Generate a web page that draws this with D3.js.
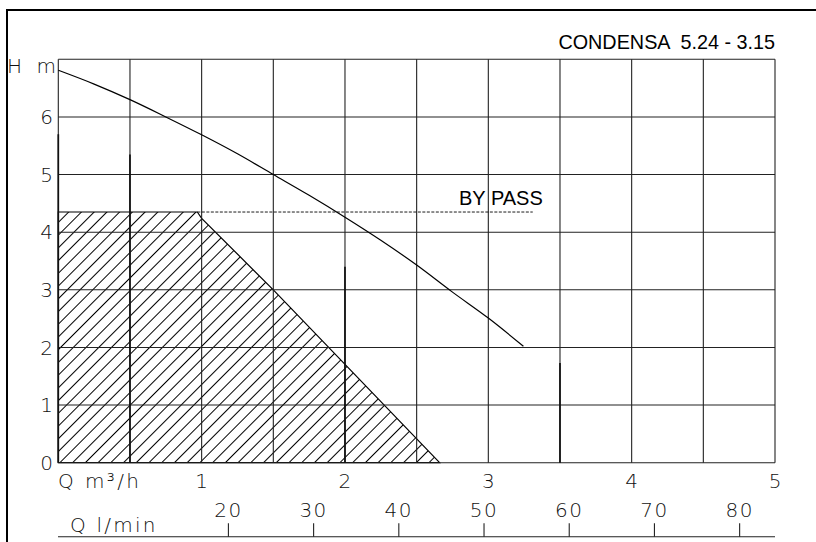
<!DOCTYPE html>
<html>
<head>
<meta charset="utf-8">
<script src="https://cdn.jsdelivr.net/npm/d3@7"></script>
<style>
  html, body { margin: 0; padding: 0; background: #fff; }
  svg { display: block; }
  .cad { font-family: "DejaVu Sans", sans-serif; font-weight: 200; fill: #111; }
  .arial { font-family: "Liberation Sans", Arial, sans-serif; fill: #000; }
</style>
</head>
<body>
<svg id="chart" width="816" height="542"></svg>
<script>
// ---- data ----
const curveQ = [0, 0.25, 0.5, 0.75, 1.0, 1.25, 1.5, 1.75, 2.0, 2.25, 2.5, 2.75, 3.0, 3.245];
const curveH = [6.81, 6.57, 6.30, 6.00, 5.69, 5.36, 5.00, 4.64, 4.26, 3.86, 3.43, 2.96, 2.51, 2.02];
const hatchQ = [0, 0.97, 1.0, 1.5, 2.66, 0];
const hatchH = [4.35, 4.35, 4.24, 3.0, 0, 0];
const bypassQ = [0.97, 3.31];
const bypassH = [4.35, 4.35];
const xTicks = [1, 2, 3, 4, 5];
const xGrid = [0, 0.5, 1, 1.5, 2, 2.5, 3, 3.5, 4, 4.5, 5];
const yTicks = [0, 1, 2, 3, 4, 5, 6];
const yGrid = [0, 1, 2, 3, 4, 5, 6, 7];
const lminTicks = [20, 30, 40, 50, 60, 70, 80];
const heavyQ = [0, 0.5, 2, 3.5];
const heavyH = [5.7, 5.35, 3.4, 1.73];
const title = "CONDENSA  5.24 - 3.15";

// ---- scales ----
const svg = d3.select("#chart");
const x = d3.scaleLinear().domain([0, 5]).range([58.3, 775]);
const y = d3.scaleLinear().domain([0, 7]).range([462.7, 59.3]);
const xl = d3.scaleLinear().domain([0, 84.15]).range([58, 775]);

// frame
svg.append("path").attr("d", "M7,542V10H816").attr("fill", "none")
  .attr("stroke", "#000").attr("stroke-width", 2);

// hatch pattern
const defs = svg.append("defs");
const pat = defs.append("pattern").attr("id", "hatch")
  .attr("patternUnits", "userSpaceOnUse").attr("width", 9).attr("height", 9)
  .attr("patternTransform", "rotate(45)");
pat.append("line").attr("x1", 0.5).attr("y1", 0).attr("x2", 0.5).attr("y2", 9)
  .attr("stroke", "#000").attr("stroke-width", 1);

// hatched area
const hatchPts = hatchQ.map((q, i) => [x(q), y(hatchH[i])]);
svg.append("path").attr("d", d3.line()(hatchPts) + "Z")
  .attr("fill", "url(#hatch)").attr("stroke", "#000").attr("stroke-width", 1.2);

// grid
const g = svg.append("g").attr("stroke", "#222").attr("stroke-width", 1.1);
g.selectAll("line.v").data(xGrid).join("line").attr("class", "v")
  .attr("x1", d => x(d)).attr("x2", d => x(d))
  .attr("y1", y(0)).attr("y2", y(7));
g.selectAll("line.h").data(yGrid).join("line").attr("class", "h")
  .attr("x1", x(0)).attr("x2", x(5))
  .attr("y1", d => y(d)).attr("y2", d => y(d));
// heavier scan segments
g.selectAll("line.hv").data(heavyQ).join("line").attr("class", "hv")
  .attr("x1", d => x(d)).attr("x2", d => x(d))
  .attr("y1", (d, i) => y(heavyH[i])).attr("y2", y(0))
  .attr("stroke-width", 1.7).attr("stroke", "#111");

// bypass dashed
svg.append("path")
  .attr("d", d3.line()(bypassQ.map((q, i) => [x(q), y(bypassH[i])])))
  .attr("stroke", "#000").attr("stroke-width", 0.9).attr("stroke-dasharray", "3,1.5")
  .attr("fill", "none");

// pump curve
svg.append("path")
  .attr("d", d3.line().curve(d3.curveMonotoneX)(curveQ.map((q, i) => [x(q), y(curveH[i])])))
  .attr("stroke", "#000").attr("stroke-width", 1.2).attr("fill", "none");

// y tick labels
svg.selectAll("text.yt").data(yTicks).join("text").attr("class", "cad yt")
  .attr("x", 53).attr("y", d => y(d)).attr("dy", "0.36em")
  .attr("text-anchor", "end").attr("font-size", 20).text(d => d);
svg.append("text").attr("class", "cad").attr("x", 7).attr("y", 73)
  .attr("font-size", 20).text("H");
svg.append("text").attr("class", "cad").attr("x", 56).attr("y", 73)
  .attr("text-anchor", "end").attr("font-size", 20).text("m");

// x tick labels
svg.selectAll("text.xt").data(xTicks).join("text").attr("class", "cad xt")
  .attr("x", d => x(d)).attr("y", 488).attr("text-anchor", "middle")
  .attr("font-size", 20).text(d => d);
svg.append("text").attr("class", "cad").attr("x", 58).attr("y", 488)
  .attr("font-size", 20).attr("letter-spacing", 2.4).text("Q  m³/h");

// l/min axis
svg.append("line").attr("x1", 58).attr("x2", 775).attr("y1", 536.7).attr("y2", 536.7)
  .attr("stroke", "#222").attr("stroke-width", 1.1);
svg.selectAll("line.lt").data(lminTicks).join("line").attr("class", "lt")
  .attr("x1", d => xl(d)).attr("x2", d => xl(d))
  .attr("y1", 523.3).attr("y2", 536.7).attr("stroke", "#222").attr("stroke-width", 1.1);
svg.selectAll("text.lm").data(lminTicks).join("text").attr("class", "cad lm")
  .attr("x", d => xl(d)).attr("y", 517).attr("text-anchor", "middle")
  .attr("font-size", 20).attr("letter-spacing", 1.5).text(d => d);
svg.append("text").attr("class", "cad").attr("x", 70).attr("y", 532)
  .attr("font-size", 20).attr("letter-spacing", 2.2).text("Q  l/min");

// title and by pass
svg.append("text").attr("class", "arial").attr("x", 775).attr("y", 49.3)
  .attr("text-anchor", "end").attr("font-size", 19.8)
  .style("white-space", "pre").text(title);
svg.append("text").attr("class", "arial").attr("x", 459).attr("y", 205)
  .attr("font-size", 20).text("BY PASS");
</script>
</body>
</html>
